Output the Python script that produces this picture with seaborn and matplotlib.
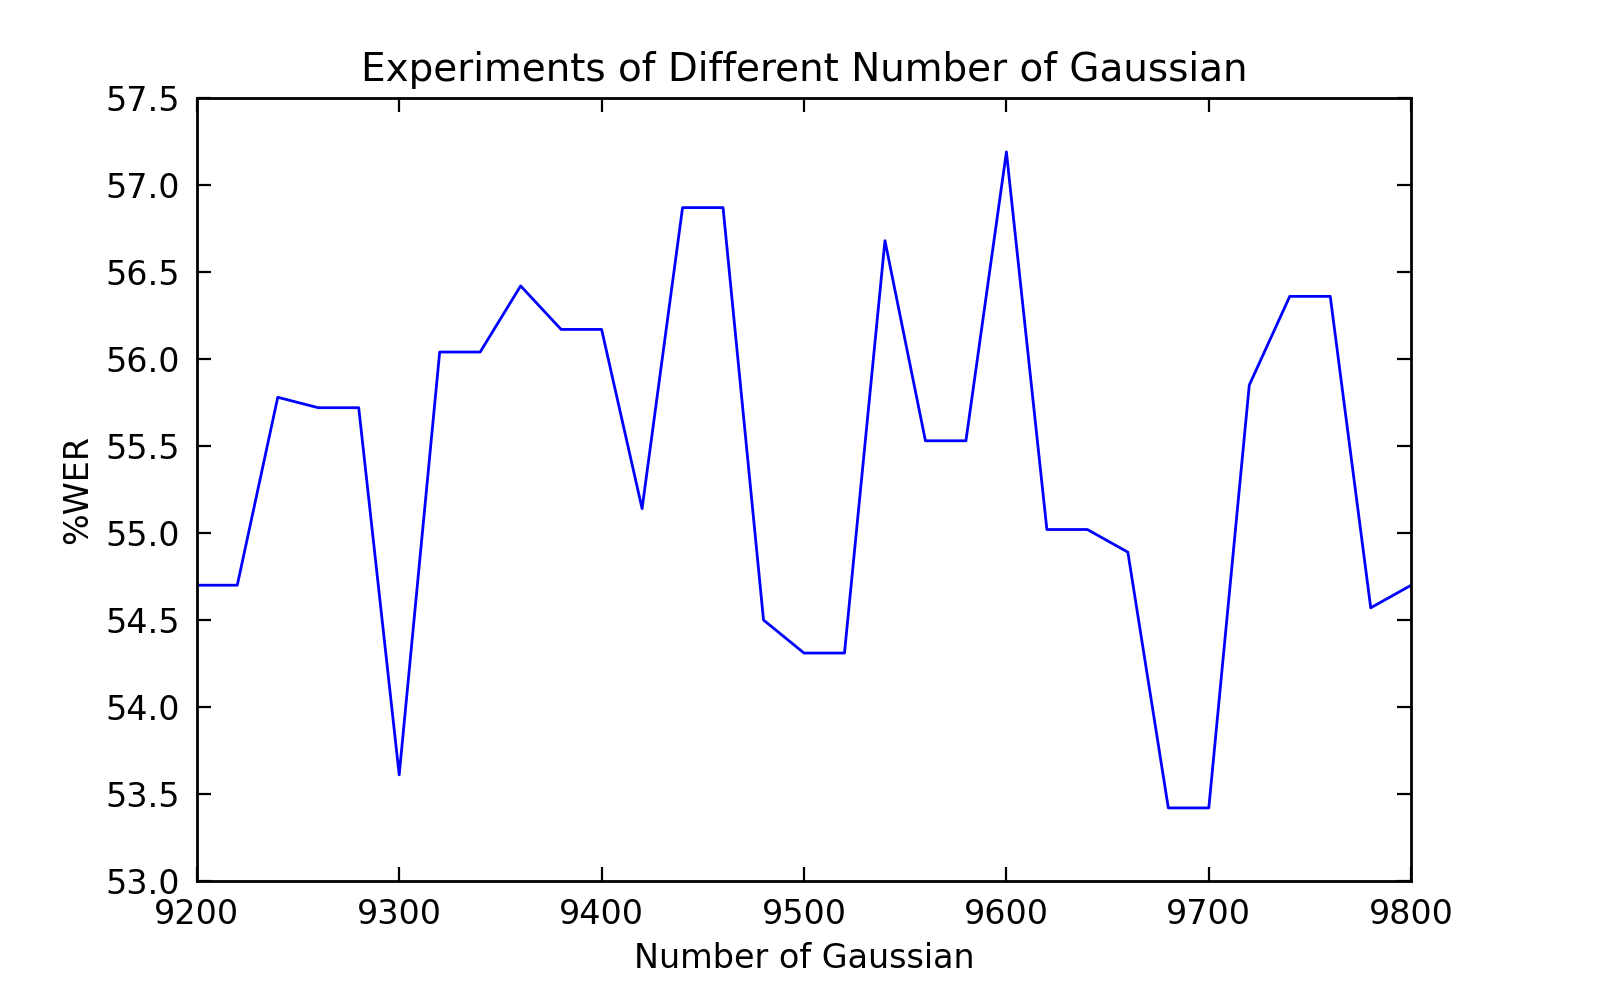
import numpy as np
import matplotlib
matplotlib.use("Agg")
import matplotlib.pyplot as plt
import seaborn as sns
import pandas as pd

gaussians = [9200, 9220, 9240, 9260, 9280, 9300, 9320, 9340, 9360, 9380, 9400,
             9420, 9440, 9460, 9480, 9500, 9520, 9540, 9560, 9580, 9600,
             9620, 9640, 9660, 9680, 9700, 9720, 9740, 9760, 9780, 9800]
wer = [54.70, 54.70, 55.78, 55.72, 55.72, 53.61, 56.04, 56.04, 56.42, 56.17, 56.17,
       55.14, 56.87, 56.87, 54.50, 54.31, 54.31, 56.68, 55.53, 55.53, 57.19,
       55.02, 55.02, 54.89, 53.42, 53.42, 55.85, 56.36, 56.36, 54.57, 54.70]

df = pd.DataFrame({"gaussian": gaussians, "wer": wer})

sns.set_style("ticks")
plt.rcParams['font.family'] = ['DejaVu Sans']
for key in ["text.color", "axes.labelcolor", "xtick.color", "ytick.color", "axes.edgecolor"]:
    plt.rcParams[key] = "black"

fig = plt.figure(figsize=(8, 5), dpi=200)
ax = fig.add_axes([0.123, 0.119, 0.759, 0.783])
sns.lineplot(data=df, x="gaussian", y="wer", color="blue", linewidth=1.0, ax=ax)

ax.set_xlim(9200, 9800)
ax.set_ylim(53.0, 57.5)
ax.set_xticks(np.arange(9200, 9801, 100))
ax.set_yticks(np.arange(53.0, 57.51, 0.5))
ax.set_yticklabels([f"{v:.1f}" for v in np.arange(53.0, 57.51, 0.5)])
ax.tick_params(direction="in", top=True, right=True, labelsize=12, length=5, width=0.8, pad=6,
               colors="black")
for s in ax.spines.values():
    s.set_linewidth(1.0)
    s.set_color("black")
ax.set_title("Experiments of Different Number of Gaussian", fontsize=14, color="black")
ax.set_xlabel("Number of Gaussian", fontsize=12, color="black")
ax.set_ylabel("%WER", fontsize=12, color="black")

fig.savefig("out.png", dpi=200)
